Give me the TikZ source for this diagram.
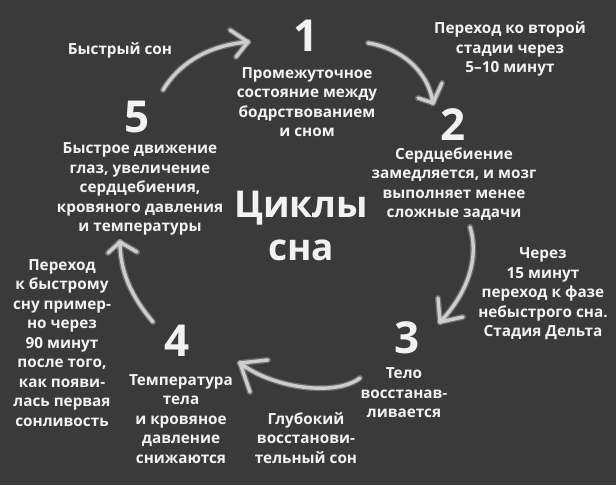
\documentclass[tikz,border=0pt]{standalone}
\usepackage{fontspec}
\setmainfont{Open Sans}[BoldFont={Open Sans Bold}]
\definecolor{board}{RGB}{58,58,58}
\definecolor{chalk}{RGB}{205,205,205}
\definecolor{txt}{RGB}{242,242,242}
\tikzset{
  lbl/.style={text=txt, align=center, inner sep=0pt, font=\bfseries\fontsize{15.3}{19.5}\selectfont},
  num/.style={text=txt, inner sep=0pt, text height=31pt, text depth=0pt, font=\bfseries\fontsize{44}{44}\selectfont},
  ttl/.style={text=txt, align=center, inner sep=0pt, font=\bfseries\fontsize{37}{43}\selectfont},
  chalkglow/.style={draw=chalk, opacity=0.35, line width=6pt, line cap=round, line join=round},
  chalkline/.style={draw=chalk, line width=3.4pt, line cap=round, line join=round}
}
\begin{document}
\begin{tikzpicture}[x=1pt,y=-1pt]
\fill[board] (0,0) rectangle (616,485);
\useasboundingbox (0,0) rectangle (616,485);

% numbers
\node[num] (n1) at (306,36) {1};
\node[num] (n2) at (453,125) {2};
\node[num] (n3) at (407,338) {3};
\node[num] (n4) at (177,341) {4};
\node[num] (n5) at (137,117) {5};

% title
\node[ttl] (title) at (301,226) {Циклы\\сна};

% descriptions
\node[lbl] (d1) at (307,102) {Промежуточное\\состояние между\\бодрствованием\\и сном};
\node[lbl] (d2) at (454,184) {Сердцебиение\\замедляется, и мозг\\выполняет менее\\сложные задачи};
\node[lbl] (d3) at (404,393) {Тело\\восстанав-\\ливается};
\node[lbl] (d4) at (181,419) {Температура\\тела\\и кровяное\\давление\\снижаются};
\node[lbl] (d5) at (140,189) {Быстрое движение\\глаз, увеличение\\сердцебиения,\\кровяного давления\\и температуры};

% transition notes
\node[lbl] (t12) at (510,49) {Переход ко второй\\стадии через\\5–10 минут};
\node[lbl] (t23) at (543,294) {Через\\15 минут\\переход к фазе\\небыстрого сна.\\Стадия Дельта};
\node[lbl] (t34) at (306,438) {Глубокий\\восстанови-\\тельный сон};
\node[lbl] (t45) at (62,343) {Переход\\к быстрому\\сну пример-\\но через\\90 минут\\после того,\\как появи-\\лась первая\\сонливость};
\node[lbl] (t51) at (120,50) {Быстрый сон};

% arrow end points
\coordinate (a1s) at (163,90);  \coordinate (a1t) at (248,42);
\coordinate (a2s) at (368,43);  \coordinate (a2t) at (433,103);
\coordinate (a3s) at (470,227); \coordinate (a3t) at (440,322);
\coordinate (a4s) at (360,378); \coordinate (a4t) at (240,363);
\coordinate (a5s) at (153,322); \coordinate (a5t) at (120,242);

\foreach \st in {chalkglow,chalkline}{
  % 5 -> 1
  \draw[\st] (a1s) .. controls (180,62) and (210,45) .. (a1t);
  \draw[\st] (230,30) -- (a1t) -- (236,57);
  % 1 -> 2
  \draw[\st] (a2s) .. controls (400,48) and (428,70) .. (a2t);
  \draw[\st] (418,98) -- (a2t) -- (442,83);
  % 2 -> 3
  \draw[\st] (a3s) .. controls (480,260) and (466,295) .. (a3t);
  \draw[\st] (438,298) -- (a3t) -- (463,317);
  % 3 -> 4
  \draw[\st] (a4s) .. controls (335,397) and (272,388) .. (a4t);
  \draw[\st] (268,360) -- (a4t) -- (250,392);
  % 4 -> 5
  \draw[\st] (a5s) .. controls (130,295) and (120,270) .. (a5t);
  \draw[\st] (108,253) -- (a5t) -- (137,252);
}
\end{tikzpicture}
\end{document}
